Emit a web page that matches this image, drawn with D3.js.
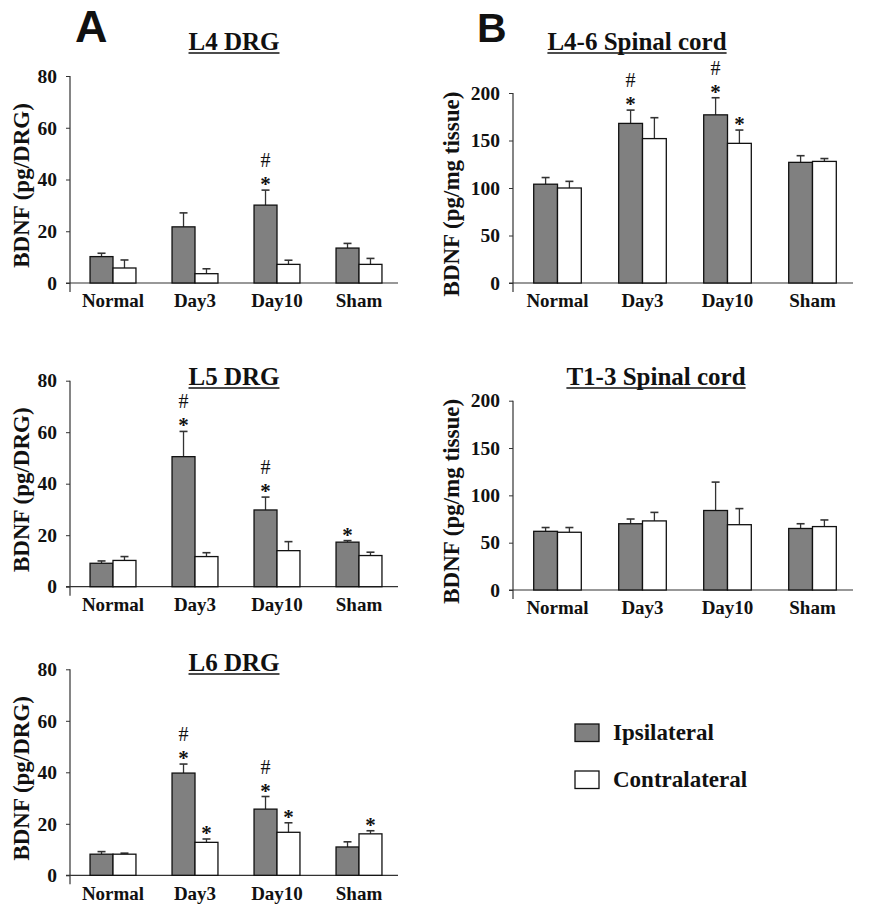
<!DOCTYPE html>
<html>
<head>
<meta charset="utf-8">
<script src="https://cdn.jsdelivr.net/npm/d3@7"></script>
<style>
  html, body { margin: 0; padding: 0; background: #fff; }
  svg { display: block; }
</style>
</head>
<body>
<svg id="chart" width="870" height="920"></svg>
<script>
// ---------------- DATA ----------------
const categories = ["Normal", "Day3", "Day10", "Sham"];
const seriesNames = ["Ipsilateral", "Contralateral"];
const drgTicks = [0, 20, 40, 60, 80];
const cordTicks = [0, 50, 100, 150, 200];

// L4 DRG (pg/DRG)
const l4Ipsi = [10.2, 21.7, 30.1, 13.5];
const l4IpsiErr = [1.3, 5.4, 5.8, 1.8];
const l4Contra = [5.8, 3.6, 7.2, 7.2];
const l4ContraErr = [3.1, 1.9, 1.6, 2.3];
const l4IpsiMarks = ["", "", "#*", ""];
const l4ContraMarks = ["", "", "", ""];

// L5 DRG (pg/DRG)
const l5Ipsi = [9.1, 50.5, 29.8, 17.3];
const l5IpsiErr = [0.9, 9.8, 5.0, 0.6];
const l5Contra = [10.2, 11.7, 14.0, 12.1];
const l5ContraErr = [1.5, 1.5, 3.5, 1.3];
const l5IpsiMarks = ["", "#*", "#*", "*"];
const l5ContraMarks = ["", "", "", ""];

// L6 DRG (pg/DRG)
const l6Ipsi = [8.2, 39.7, 25.7, 11.0];
const l6IpsiErr = [1.0, 3.5, 4.9, 2.0];
const l6Contra = [8.2, 12.8, 16.7, 16.1];
const l6ContraErr = [0.4, 1.3, 3.7, 1.2];
const l6IpsiMarks = ["", "#*", "#*", ""];
const l6ContraMarks = ["", "*", "*", "*"];

// L4-6 Spinal cord (pg/mg tissue)
const l46Ipsi = [104, 168, 177, 127];
const l46IpsiErr = [7, 14, 18, 7];
const l46Contra = [100, 152, 147, 128];
const l46ContraErr = [7, 22, 14, 3];
const l46IpsiMarks = ["", "#*", "#*", ""];
const l46ContraMarks = ["", "", "*", ""];

// T1-3 Spinal cord (pg/mg tissue)
const t13Ipsi = [62, 70, 84, 65];
const t13IpsiErr = [4, 5, 30, 5];
const t13Contra = [61, 73, 69, 67];
const t13ContraErr = [5, 9, 17, 7];
const t13IpsiMarks = ["", "", "", ""];
const t13ContraMarks = ["", "", "", ""];

// ---------------- LAYOUT / STYLE ----------------
const SERIF = "'Liberation Serif', 'Times New Roman', serif";
const SANS = "'Liberation Sans', Arial, sans-serif";
const FILL_IPSI = "#808080";
const FILL_CONTRA = "#ffffff";
const AXIS_COLOR = "#333";
const TEXT_COLOR = "#111";

const panels = [
  { title: "L4 DRG", ipsi: l4Ipsi, ipsiErr: l4IpsiErr, contra: l4Contra, contraErr: l4ContraErr,
    ipsiMarks: l4IpsiMarks, contraMarks: l4ContraMarks, yMax: 80, ticks: drgTicks,
    yLabel: "BDNF (pg/DRG)", axisX: 70, xEnd: 398, bandL: 72, bandR: 400, top: 76, bottom: 283,
    titleX: 234, titleY: 50, labelX: 29 },
  { title: "L5 DRG", ipsi: l5Ipsi, ipsiErr: l5IpsiErr, contra: l5Contra, contraErr: l5ContraErr,
    ipsiMarks: l5IpsiMarks, contraMarks: l5ContraMarks, yMax: 80, ticks: drgTicks,
    yLabel: "BDNF (pg/DRG)", axisX: 70, xEnd: 398, bandL: 72, bandR: 400, top: 380.7, bottom: 586.7,
    titleX: 234, titleY: 385, labelX: 29 },
  { title: "L6 DRG", ipsi: l6Ipsi, ipsiErr: l6IpsiErr, contra: l6Contra, contraErr: l6ContraErr,
    ipsiMarks: l6IpsiMarks, contraMarks: l6ContraMarks, yMax: 80, ticks: drgTicks,
    yLabel: "BDNF (pg/DRG)", axisX: 70, xEnd: 398, bandL: 72, bandR: 400, top: 669.3, bottom: 875.3,
    titleX: 234, titleY: 671, labelX: 29 },
  { title: "L4-6 Spinal cord", ipsi: l46Ipsi, ipsiErr: l46IpsiErr, contra: l46Contra, contraErr: l46ContraErr,
    ipsiMarks: l46IpsiMarks, contraMarks: l46ContraMarks, yMax: 200, ticks: cordTicks,
    yLabel: "BDNF (pg/mg tissue)", axisX: 513, xEnd: 853, bandL: 515, bandR: 855, top: 93, bottom: 283,
    titleX: 637, titleY: 50, labelX: 459 },
  { title: "T1-3 Spinal cord", ipsi: t13Ipsi, ipsiErr: t13IpsiErr, contra: t13Contra, contraErr: t13ContraErr,
    ipsiMarks: t13IpsiMarks, contraMarks: t13ContraMarks, yMax: 200, ticks: cordTicks,
    yLabel: "BDNF (pg/mg tissue)", axisX: 513, xEnd: 853, bandL: 515, bandR: 855, top: 400.7, bottom: 590,
    titleX: 656, titleY: 385, labelX: 459 }
];

const svg = d3.select("#chart");
svg.append("rect").attr("width", 870).attr("height", 920).attr("fill", "#fff");

// Panel letters
svg.append("text").attr("x", 75).attr("y", 42).attr("font-family", SANS).attr("font-weight", "bold")
  .attr("font-size", 45).attr("fill", TEXT_COLOR).text("A");
svg.append("text").attr("x", 477).attr("y", 42).attr("font-family", SANS).attr("font-weight", "bold")
  .attr("font-size", 41).attr("fill", TEXT_COLOR).text("B");

panels.forEach(p => {
  const g = svg.append("g");
  const y = d3.scaleLinear().domain([0, p.yMax]).range([p.bottom, p.top]);
  const x0 = d3.scaleBand().domain(categories).range([p.bandL, p.bandR]).paddingInner(0.44).paddingOuter(0.22);
  const x1 = d3.scaleBand().domain(seriesNames).range([0, x0.bandwidth()]);

  // Title with underline
  const t = g.append("text").attr("x", p.titleX).attr("y", p.titleY).attr("text-anchor", "middle")
    .attr("font-family", SERIF).attr("font-weight", "bold").attr("font-size", 25)
    .attr("fill", TEXT_COLOR).text(p.title);
  const tw = t.node().getComputedTextLength();
  g.append("line").attr("x1", p.titleX - tw / 2).attr("x2", p.titleX + tw / 2)
    .attr("y1", p.titleY + 3).attr("y2", p.titleY + 3)
    .attr("stroke", TEXT_COLOR).attr("stroke-width", 1.4);

  // Y axis
  const ya = g.append("g").attr("transform", `translate(${p.axisX},0)`)
    .call(d3.axisLeft(y).tickValues(p.ticks).tickSize(4).tickSizeOuter(0).tickPadding(9));
  ya.select(".domain").remove();
  ya.selectAll(".tick line").attr("stroke", AXIS_COLOR);
  ya.selectAll(".tick text").attr("font-family", SERIF).attr("font-weight", "bold")
    .attr("font-size", 19.5).attr("fill", TEXT_COLOR);
  g.append("line").attr("x1", p.axisX).attr("x2", p.axisX).attr("y1", y(p.yMax)).attr("y2", y(0) + 9)
    .attr("stroke", AXIS_COLOR).attr("stroke-width", 1.2);

  // X axis line
  g.append("line").attr("x1", p.axisX - 4).attr("x2", p.xEnd).attr("y1", y(0)).attr("y2", y(0))
    .attr("stroke", AXIS_COLOR).attr("stroke-width", 1.2);
  const xa = g.append("g").attr("transform", `translate(0,${y(0)})`)
    .call(d3.axisBottom(x0).tickSize(0).tickPadding(11));
  xa.select(".domain").remove();
  xa.selectAll(".tick text").attr("font-family", SERIF).attr("font-weight", "bold")
    .attr("font-size", 19).attr("fill", TEXT_COLOR);

  // Y label
  g.append("text").attr("transform", `translate(${p.labelX},${(y(0) + y(p.yMax)) / 2 + 6}) rotate(-90)`)
    .attr("text-anchor", "middle").attr("font-family", SERIF).attr("font-weight", "bold")
    .attr("font-size", 23).attr("fill", TEXT_COLOR).text(p.yLabel);

  // Bars
  const rows = [];
  categories.forEach((c, i) => {
    rows.push({ cat: c, s: seriesNames[0], v: p.ipsi[i], e: p.ipsiErr[i], m: p.ipsiMarks[i], fill: FILL_IPSI });
    rows.push({ cat: c, s: seriesNames[1], v: p.contra[i], e: p.contraErr[i], m: p.contraMarks[i], fill: FILL_CONTRA });
  });

  rows.forEach(r => {
    const cx = x0(r.cat) + x1(r.s) + x1.bandwidth() / 2;
    g.append("line").attr("x1", cx).attr("x2", cx).attr("y1", y(r.v)).attr("y2", y(r.v + r.e))
      .attr("stroke", AXIS_COLOR).attr("stroke-width", 1.3);
    g.append("line").attr("x1", cx - 4).attr("x2", cx + 4).attr("y1", y(r.v + r.e)).attr("y2", y(r.v + r.e))
      .attr("stroke", AXIS_COLOR).attr("stroke-width", 1.6);
  });

  g.selectAll("rect.bar").data(rows).join("rect").attr("class", "bar")
    .attr("x", d => x0(d.cat) + x1(d.s))
    .attr("y", d => y(d.v))
    .attr("width", x1.bandwidth())
    .attr("height", d => y(0) - y(d.v))
    .attr("fill", d => d.fill)
    .attr("stroke", "#111").attr("stroke-width", 1.3);

  // Significance marks
  rows.forEach(r => {
    if (!r.m) return;
    const cx = x0(r.cat) + x1(r.s) + x1.bandwidth() / 2;
    const capY = y(r.v + r.e);
    if (r.m.includes("*")) {
      g.append("text").attr("x", cx).attr("y", capY + 1).attr("text-anchor", "middle")
        .attr("font-family", SERIF).attr("font-weight", "bold").attr("font-size", 21)
        .attr("fill", TEXT_COLOR).text("*");
    }
    if (r.m.includes("#")) {
      g.append("text").attr("x", cx).attr("y", capY - 23).attr("text-anchor", "middle")
        .attr("font-family", SERIF).attr("font-weight", "normal").attr("font-size", 20)
        .attr("fill", TEXT_COLOR).text("#");
    }
  });
});

// Legend
const legend = svg.append("g");
const legendFills = [FILL_IPSI, FILL_CONTRA];
const legendY = d3.scalePoint().domain(seriesNames).range([724, 771]);
seriesNames.forEach((s, i) => {
  legend.append("rect").attr("x", 575).attr("y", legendY(s)).attr("width", 24).attr("height", 17.5)
    .attr("fill", legendFills[i]).attr("stroke", "#111").attr("stroke-width", 1.3);
  legend.append("text").attr("x", 613).attr("y", legendY(s) + 16)
    .attr("font-family", SERIF).attr("font-weight", "bold").attr("font-size", 23)
    .attr("fill", TEXT_COLOR).text(s);
});
</script>
</body>
</html>
